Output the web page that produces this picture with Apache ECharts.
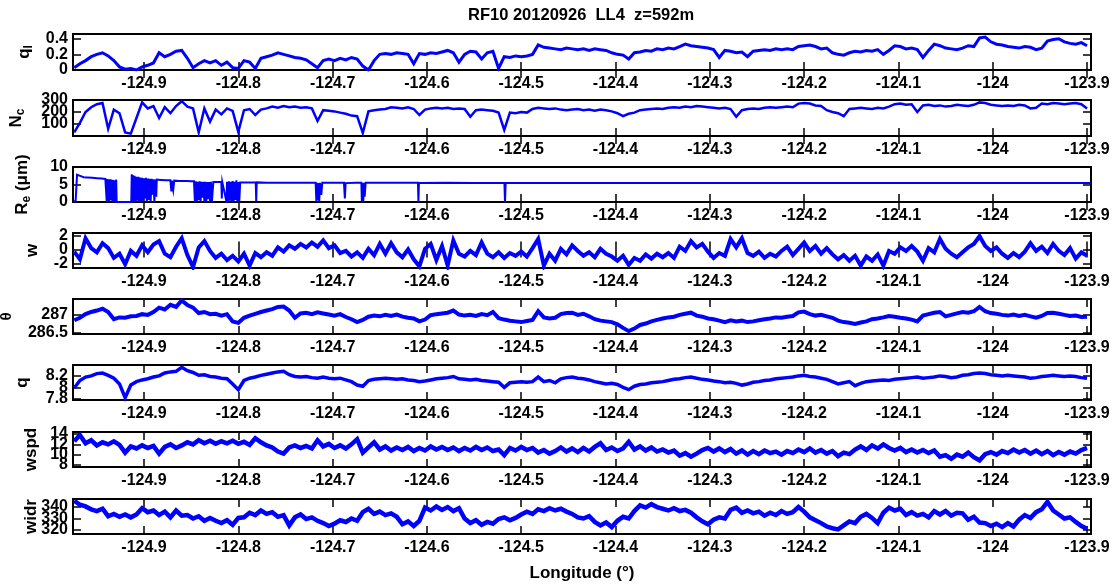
<!DOCTYPE html>
<html>
<head>
<meta charset="utf-8">
<script src="https://cdn.jsdelivr.net/npm/echarts@6/dist/echarts.min.js"></script>
<style>
  html, body { margin: 0; padding: 0; background: #fff; }
  #chart { width: 1114px; height: 586px; }
</style>
</head>
<body>
<div id="chart"></div>
<script>
// RF10 low-level leg LL4: cloud and thermodynamic fields along longitude
const TITLE = 'RF10 20120926  LL4  z=592m';
const X_NAME = 'Longitude (°)';
const xTicks = [-124.9, -124.8, -124.7, -124.6, -124.5, -124.4, -124.3, -124.2, -124.1, -124, -123.9];

// regular longitude sampling of the leg
const LON_START = -124.974;
const LON_STEP = 0.006;

// liquid water (g/kg)
const ql = [
  0.03,0.08,0.12,0.17,0.2, 0.22,0.18,0.12,0.04,0.01, 0.02,0,0.04,0.06,0.09, 0.22,0.17,0.2,0.24,0.25,
  0.15,0.03,0.08,0.12,0.09, 0.12,0.06,0.1,0.03,0.02, 0.12,0.1,0.02,0.15,0.17, 0.19,0.22,0.2,0.18,0.16,
  0.15,0.13,0.08,0.03,0.12, 0.14,0.12,0.15,0.13,0.16, 0.14,0.05,0,0.12,0.2, 0.21,0.2,0.22,0.21,0.2,
  0.08,0.21,0.2,0.22,0.21, 0.23,0.25,0.22,0.1,0.2, 0.24,0.23,0.14,0.22,0.24, 0.02,0.17,0.16,0.18,0.17,
  0.18,0.2,0.32,0.29,0.28, 0.27,0.26,0.28,0.27,0.26, 0.27,0.25,0.27,0.26,0.25, 0.22,0.2,0.19,0.14,0.22,
  0.23,0.25,0.24,0.27,0.26, 0.28,0.27,0.3,0.33,0.31, 0.3,0.29,0.28,0.26,0.16, 0.25,0.24,0.22,0.23,0.17,
  0.24,0.25,0.26,0.25,0.27, 0.26,0.27,0.26,0.3,0.31, 0.32,0.3,0.27,0.28,0.22, 0.2,0.19,0.22,0.24,0.23,
  0.25,0.24,0.26,0.2,0.25, 0.31,0.3,0.27,0.28,0.26, 0.16,0.25,0.33,0.31,0.28, 0.27,0.26,0.28,0.31,0.3,
  0.41,0.42,0.36,0.33,0.32, 0.3,0.29,0.28,0.3,0.29, 0.26,0.28,0.37,0.39,0.4, 0.36,0.34,0.33,0.35,0.31
];

// droplet number concentration (cm^-3)
const nc = [
  30,110,200,240,265, 275,60,220,190,30, 20,150,280,230,250, 150,240,190,250,290,
  245,230,30,230,120, 220,180,230,210,35, 215,225,175,220,230, 245,235,250,240,245,
  235,240,230,125,215, 210,205,195,185,170, 165,25,205,215,220, 225,240,235,230,240,
  225,175,220,230,235, 230,235,225,230,225, 160,215,220,215,210, 195,50,195,190,200,
  195,225,235,230,225, 230,220,215,220,225, 215,220,210,220,215, 205,190,165,185,195,
  215,220,225,230,225, 235,240,235,245,240, 250,245,240,235,230, 235,225,160,215,225,
  230,225,235,240,235, 240,245,240,270,275, 270,255,250,215,200, 190,165,225,230,235,
  230,225,235,230,245, 265,270,260,265,200, 255,260,250,255,245, 250,260,255,250,260,
  280,275,260,255,250, 255,250,260,255,230, 235,270,265,275,270, 265,270,275,265,230
];

// effective radius (um): [longitude, value], dropouts where the probe saw no cloud
const reSamples = [
  [-124.975,0],[-124.9725,0.4],[-124.971,7.8],[-124.969,8.2],[-124.967,7.4],[-124.964,7.1],[-124.96,7.0],
  [-124.955,6.9],[-124.95,6.8],[-124.945,6.7],[-124.941,6.6],
  [-124.9395,0],[-124.939,6.6],[-124.9385,0],[-124.938,6.5],[-124.937,0],[-124.936,6.5],[-124.935,0.5],
  [-124.9345,6.4],[-124.9335,0],[-124.933,6.3],[-124.932,0],[-124.931,6.2],[-124.93,0],[-124.9295,6.4],[-124.929,0],
  [-124.9135,0],[-124.913,7.9],[-124.9125,0],[-124.912,7.7],[-124.911,0],[-124.91,7.5],[-124.909,0],[-124.908,7.2],[-124.907,0.4],
  [-124.906,7.2],[-124.905,0],[-124.904,7.0],[-124.903,0.3],[-124.902,6.9],[-124.901,0],[-124.9,6.8],[-124.899,1.0],
  [-124.898,6.9],[-124.897,0],[-124.896,6.7],[-124.895,0.6],[-124.894,6.6],[-124.893,0],[-124.892,6.6],[-124.891,2.1],
  [-124.89,6.5],[-124.889,0],[-124.888,6.4],[-124.887,1.5],[-124.8865,6.4],
  [-124.882,6.3],[-124.877,6.2],[-124.872,6.2],[-124.871,3.0],[-124.8705,6.1],[-124.869,3.5],[-124.868,6.1],
  [-124.862,6.0],[-124.855,6.0],[-124.85,5.9],[-124.847,5.9],
  [-124.846,0],[-124.845,5.9],[-124.844,0],[-124.843,5.8],[-124.842,0.5],[-124.841,5.9],[-124.84,0],[-124.839,5.8],
  [-124.838,1.2],[-124.837,5.8],[-124.836,0],[-124.835,5.8],[-124.834,0],[-124.833,5.7],[-124.832,0.8],[-124.831,5.7],
  [-124.83,0],[-124.829,5.8],[-124.828,0],[-124.8265,5.7],
  [-124.822,5.7],[-124.818,5.7],[-124.8175,1.0],[-124.817,5.7],[-124.815,5.7],
  [-124.8125,0],[-124.812,5.8],[-124.811,0],[-124.81,5.9],[-124.809,0.4],[-124.808,5.8],[-124.807,0],[-124.806,6.0],
  [-124.805,0],[-124.804,5.8],[-124.803,0.6],[-124.802,6.2],[-124.801,0],[-124.8,5.7],[-124.799,0],[-124.798,5.6],
  [-124.79,5.6],[-124.7815,5.6],[-124.781,0],[-124.7805,5.6],[-124.77,5.5],[-124.75,5.5],[-124.73,5.5],[-124.718,5.5],
  [-124.7172,0],[-124.7165,5.5],[-124.716,0.5],[-124.7152,5.4],[-124.7142,0],[-124.7135,5.5],[-124.712,2.0],[-124.711,5.5],
  [-124.71,5.5],[-124.7,5.5],[-124.688,5.5],[-124.687,1.0],[-124.6862,5.4],[-124.675,5.5],
  [-124.6695,5.5],[-124.669,0.3],[-124.6682,5.4],[-124.6675,0],[-124.6668,5.5],[-124.666,1.5],[-124.665,5.5],
  [-124.64,5.5],[-124.62,5.5],[-124.6095,5.5],[-124.609,0],[-124.6085,5.4],[-124.58,5.5],[-124.55,5.4],
  [-124.5178,5.4],[-124.5172,0],[-124.5165,5.4],
  [-124.48,5.4],[-124.44,5.4],[-124.4,5.4],[-124.36,5.4],[-124.32,5.4],[-124.28,5.4],[-124.24,5.4],[-124.2,5.4],
  [-124.16,5.4],[-124.12,5.4],[-124.08,5.4],[-124.04,5.4],[-124,5.4],[-123.96,5.4],[-123.92,5.4],[-123.896,5.4]
];

// vertical velocity (m/s)
const w = [
  -0.3,-1.4,1.6,0.2,-0.4, 0.9,0.2,-1.2,-0.6,-2.1, -0.2,-0.9,0.6,-0.4,0.7, 1.2,-0.6,-1.1,0.4,1.6,
  -0.8,-2.5,0.3,1.2,-0.2, -1.2,-0.6,-1.5,-0.9,-1.7, -0.6,-2.3,-0.5,-1.1,-0.4, -0.9,0.3,-0.3,0.6,0.1,
  0.8,0.3,1.0,0.4,1.3, 0.2,0.6,-0.5,-0.2,-1.0, -0.4,-1.2,0.1,-0.8,0.8, -0.6,0.9,-0.4,-1.1,0.0,
  -1.4,-2.4,0.1,0.8,-1.5, 0.5,-2.3,1.3,-0.6,-1.0, -0.2,-0.8,1.0,-0.6,-1.1, -0.4,-1.2,-0.5,-0.9,-0.3,
  -1.0,0.2,1.5,-2.3,-0.6, -1.6,0.1,-0.7,0.6,-0.2, -0.9,-0.4,-1.1,0.1,-0.6, -1.0,-1.6,-0.9,-2.2,-1.2,
  -1.6,-0.7,-1.3,-0.6,-1.1, -0.5,-1.2,0.4,-0.2,1.2, 0.3,0.8,-0.3,-1.2,-0.5, -0.9,1.5,0.3,1.6,-0.5,
  -0.9,-0.3,-1.2,-0.6,-1.0, -0.2,0.4,-0.8,0.1,1.0, -0.2,0.5,-0.6,0.2,-0.7, -1.4,-0.8,-1.6,-0.9,-2.3,
  -1.0,-1.6,-0.7,-2.3,-0.2, -0.6,0.3,-0.2,0.5,-0.3, -1.6,0.2,-0.4,1.5,0.1, -0.6,-1.1,-0.4,0.3,0.8,
  1.9,0.5,-0.2,0.3,-0.6, -1.2,-0.5,-1.1,-0.3,0.9, -0.2,0.4,-0.5,0.8,-0.2, -0.8,0.2,-1.3,-0.4,-0.9
];

// potential temperature (K)
const theta = [
  286.85,286.92,287.02,287.08,287.12, 287.17,287.08,286.88,286.93,286.92, 286.96,286.97,287.02,287.0,287.08, 287.2,287.15,287.28,287.22,287.4,
  287.27,287.2,287.05,287.08,287.02, 287.03,286.98,287.02,286.82,286.78, 286.92,286.98,287.03,287.08,287.12, 287.16,287.22,287.23,287.12,286.92,
  287.04,287.06,287.02,287.07,287.04, 287.01,286.98,287.02,286.94,286.88, 286.8,286.86,286.95,286.98,286.96, 287.0,286.97,287.01,286.95,286.92,
  286.9,286.82,286.87,286.99,287.02, 287.04,287.06,287.12,287.01,286.98, 287.0,286.97,287.02,286.99,287.08, 286.91,286.87,286.84,286.82,286.8,
  286.83,286.86,287.1,286.93,286.9, 286.92,287.02,287.05,287.06,287.0, 287.03,286.96,286.88,286.84,286.82, 286.8,286.74,286.64,286.55,286.62,
  286.72,286.76,286.82,286.86,286.9, 286.93,286.95,287.0,287.03,287.06, 286.98,286.95,286.9,286.88,286.84, 286.8,286.85,286.82,286.84,286.8,
  286.82,286.85,286.88,286.9,286.93, 286.92,286.95,286.97,287.07,287.09, 287.02,286.98,287.0,286.96,286.92, 286.84,286.8,286.78,286.75,286.79,
  286.82,286.88,286.9,286.93,286.97, 286.95,286.92,286.9,286.87,286.82, 286.98,287.02,287.06,287.08,286.96, 287.0,287.04,287.08,287.06,287.1,
  287.22,287.1,287.05,287.03,287.0, 286.98,287.01,286.97,287.0,286.96, 286.92,286.97,287.05,287.06,287.03, 287.0,286.97,286.98,286.94,286.95
];

// water vapour mixing ratio (g/kg)
const q = [
  7.99,8.12,8.18,8.2,8.24, 8.25,8.21,8.16,8.06,7.82, 8.04,8.1,8.13,8.15,8.18, 8.2,8.25,8.27,8.28,8.35,
  8.29,8.26,8.21,8.22,8.19, 8.18,8.16,8.15,8.06,7.96, 8.12,8.16,8.18,8.21,8.23, 8.25,8.27,8.28,8.22,8.19,
  8.18,8.19,8.17,8.16,8.18, 8.16,8.15,8.16,8.13,8.1, 8.04,8.02,8.12,8.14,8.15, 8.16,8.15,8.14,8.15,8.13,
  8.12,8.1,8.11,8.13,8.15, 8.16,8.17,8.19,8.15,8.14, 8.13,8.14,8.12,8.11,8.1, 8.09,8.0,8.08,8.09,8.1,
  8.09,8.1,8.18,8.1,8.12, 8.08,8.15,8.17,8.18,8.16, 8.15,8.13,8.1,8.08,8.06, 8.07,8.05,8.0,7.96,8.02,
  8.05,8.06,8.08,8.09,8.1, 8.12,8.14,8.15,8.17,8.18, 8.16,8.14,8.13,8.11,8.1, 8.08,8.09,8.07,8.04,8.06,
  8.09,8.1,8.12,8.13,8.15, 8.16,8.17,8.18,8.2,8.21, 8.19,8.18,8.16,8.14,8.1, 8.06,8.08,8.1,8.03,8.07,
  8.1,8.11,8.12,8.13,8.12, 8.14,8.15,8.16,8.17,8.18, 8.16,8.17,8.18,8.2,8.19, 8.17,8.18,8.21,8.22,8.24,
  8.25,8.24,8.22,8.21,8.2, 8.21,8.2,8.19,8.18,8.16, 8.17,8.19,8.2,8.21,8.2, 8.19,8.2,8.19,8.17,8.16
];

// wind speed (m/s)
const wspd = [
  12.6,13.8,12.2,12.8,11.8, 12.4,12.0,12.6,11.9,10.4, 11.6,11.2,11.8,11.3,11.7, 10.2,11.5,12.0,11.3,11.8,
  12.4,12.0,12.8,12.2,12.7, 12.1,12.6,12.2,12.7,12.1, 12.5,11.9,13.2,12.4,11.8, 11.4,10.6,10.2,11.4,11.8,
  11.3,11.7,11.2,12.8,11.6, 12.1,11.3,11.8,11.2,12.0, 13.0,10.4,11.4,12.4,11.0, 11.6,10.8,11.4,10.9,11.5,
  10.7,11.3,10.8,11.6,11.0, 11.5,10.9,11.4,10.7,11.3, 10.8,11.5,10.9,11.4,10.7, 11.0,9.9,11.3,10.8,11.5,
  10.9,11.3,10.4,10.9,10.2, 10.7,11.4,10.6,11.2,10.5, 11.3,10.6,11.5,12.2,10.9, 11.4,10.7,11.2,12.5,11.0,
  11.6,10.8,11.4,10.6,11.0, 10.4,10.8,9.8,10.3,9.6, 10.2,10.9,11.3,10.6,11.2, 10.5,11.1,10.2,10.8,10.0,
  10.7,10.1,10.8,10.3,10.6, 10.0,10.7,10.3,11.0,10.5, 11.2,10.4,10.9,10.2,10.7, 9.7,10.4,10.1,11.0,11.6,
  10.9,11.8,11.2,12.0,11.3, 10.8,11.3,10.5,11.0,10.4, 10.9,10.3,10.8,9.6,9.9, 9.2,10.0,9.6,10.4,9.5,
  8.9,10.1,10.5,10.0,10.7, 10.3,11.0,10.4,10.9,10.2, 10.8,10.1,10.7,9.9,10.5, 10.0,10.6,10.2,10.9,11.3
];

// wind direction (deg)
const widr = [
  345.5,342.0,340.5,338.0,336.5, 338.5,332.0,334.0,331.5,333.5, 331.0,333.5,339.0,335.5,337.0, 333.0,336.0,331.0,337.0,332.5,
  333.0,330.0,332.0,328.0,330.5, 328.0,326.0,328.5,324.5,330.5, 331.0,335.0,333.0,337.0,334.0, 335.5,331.5,333.0,324.0,331.0,
  333.5,329.5,331.0,328.0,326.0, 323.5,325.5,328.5,327.0,330.0, 328.0,335.5,338.5,334.0,336.0, 333.0,334.5,331.5,325.0,327.5,
  323.5,328.0,339.5,337.0,340.5, 337.5,340.0,336.5,339.0,330.0, 326.0,328.5,324.5,327.0,325.5, 329.5,331.0,328.5,330.5,333.5,
  336.0,334.0,338.0,336.5,339.0, 337.0,338.5,336.0,334.0,331.0, 330.0,332.0,327.0,324.0,326.5, 322.5,328.0,331.5,330.0,336.5,
  341.5,339.5,342.5,340.0,338.5, 337.0,339.0,336.5,337.5,335.0, 331.0,327.5,325.0,329.0,331.0, 330.0,337.5,339.5,335.0,337.0,
  334.5,336.0,332.5,335.0,333.0, 336.5,334.0,335.5,340.0,336.0, 331.0,328.5,326.0,323.0,321.5, 320.5,324.0,327.5,326.0,331.5,
  334.0,330.5,326.0,335.0,339.5, 337.0,338.5,333.0,335.5,332.5, 334.0,331.0,336.5,333.5,336.5, 332.5,335.0,334.5,329.0,331.5,
  326.5,326.0,323.5,325.5,322.5, 326.0,323.0,329.0,333.0,330.5, 335.5,338.0,344.5,337.0,333.5, 330.0,331.0,327.0,323.5,321.0
];

const yTicks = {
  ql: [0, 0.2, 0.4],
  nc: [100, 200, 300],
  re: [0, 5, 10],
  w: [-2, 0, 2],
  theta: [286.5, 287],
  q: [7.8, 8, 8.2],
  wspd: [8, 10, 12, 14],
  widr: [320, 330, 340]
};

const lon = ql.map((_, i) => +(LON_START + i * LON_STEP).toFixed(4));
const pairs = vals => vals.map((v, i) => [lon[i], v]);

// axis extents and panel layout
const X_MIN = -124.9753, X_MAX = -123.8958;
const FONT = '"Liberation Sans", Arial, Helvetica, sans-serif';
const panels = [
  { key: 'ql',    label: '{m|q}{s|l}',          data: pairs(ql),    ymin: 0,      ymax: 0.46,   top: 34,  height: 36, gap: 38, lw: 3 },
  { key: 'nc',    label: '{m|N}{s|c}',          data: pairs(nc),    ymin: 0,      ymax: 300,    top: 100, height: 36, gap: 46, lw: 2.5 },
  { key: 're',    label: '{m|R}{s|e}{m| (μm)}', data: reSamples,    ymin: 0,      ymax: 10,     top: 167, height: 35, gap: 40, lw: 2 },
  { key: 'w',     label: '{m|w}',               data: pairs(w),     ymin: -2.64,  ymax: 2.36,   top: 233, height: 35, gap: 30, lw: 4 },
  { key: 'theta', label: '{t|θ}',               data: pairs(theta), ymin: 286.47, ymax: 287.44, top: 299, height: 35, gap: 57, lw: 4 },
  { key: 'q',     label: '{m|q}',               data: pairs(q),     ymin: 7.78,   ymax: 8.39,   top: 365, height: 35, gap: 40, lw: 3.5 },
  { key: 'wspd',  label: '{m|wspd}',            data: pairs(wspd),  ymin: 7.6,    ymax: 14.4,   top: 432, height: 35, gap: 31, lw: 4.5 },
  { key: 'widr',  label: '{m|widr}',            data: pairs(widr),  ymin: 316.5,  ymax: 347,    top: 499, height: 35, gap: 31, lw: 4.5 }
];

const tickStyle = { color: '#000', width: 1.5 };
const labelStyle = {
  color: '#000', fontSize: 16, fontWeight: 'bold', fontFamily: FONT,
  hideOverlap: false, showMinLabel: true, showMaxLabel: true
};
const nameRich = {
  m: { fontSize: 17, fontWeight: 'bold', fontFamily: FONT, color: '#000', lineHeight: 22 },
  s: { fontSize: 12, fontWeight: 'bold', fontFamily: FONT, color: '#000', lineHeight: 12, verticalAlign: 'bottom' },
  t: { fontSize: 15, fontWeight: 'bold', fontFamily: FONT, color: '#000', lineHeight: 18 }
};
const hidden = { show: false };

const grid = [], xAxis = [], yAxis = [], series = [];
panels.forEach((p, i) => {
  grid.push({
    left: 73, width: 1018, top: p.top, height: p.height,
    containLabel: false, outerBoundsMode: 'none',
    show: true, borderColor: '#000', borderWidth: 2, backgroundColor: 'transparent'
  });
  const last = i === panels.length - 1;
  // bottom axis carries the longitude labels; top axis only repeats the ticks
  xAxis.push({
    type: 'value', gridIndex: i, min: X_MIN, max: X_MAX, position: 'bottom',
    axisLine: hidden, splitLine: hidden,
    axisTick: { show: true, inside: true, length: 8, customValues: xTicks, lineStyle: tickStyle },
    axisLabel: { show: true, customValues: xTicks, margin: 6, ...labelStyle },
    name: last ? X_NAME : '', nameLocation: 'middle', nameGap: 31,
    nameTextStyle: { color: '#000', fontSize: 17, fontWeight: 'bold', fontFamily: FONT }
  });
  const xIndex = xAxis.length - 1;
  xAxis.push({
    type: 'value', gridIndex: i, min: X_MIN, max: X_MAX, position: 'top',
    axisLine: hidden, splitLine: hidden,
    axisTick: { show: true, inside: true, length: 8, customValues: xTicks, lineStyle: tickStyle },
    axisLabel: hidden
  });
  // left axis: inward ticks and the quantity name
  yAxis.push({
    type: 'value', gridIndex: i, min: p.ymin, max: p.ymax, position: 'left',
    axisLine: hidden, splitLine: hidden,
    axisTick: { show: true, inside: true, length: 8, customValues: yTicks[p.key], lineStyle: tickStyle },
    axisLabel: hidden,
    name: p.label, nameLocation: 'middle', nameRotate: 90, nameGap: p.gap,
    nameMoveOverlap: false,
    nameTextStyle: { rich: nameRich }
  });
  const yIndex = yAxis.length - 1;
  // each tick value gets its own label axis so crowded labels all stay visible
  yTicks[p.key].forEach(v => {
    yAxis.push({
      type: 'value', gridIndex: i, min: p.ymin, max: p.ymax, position: 'left',
      axisLine: hidden, splitLine: hidden, axisTick: hidden,
      axisLabel: { show: true, customValues: [v], margin: 5, ...labelStyle }
    });
  });
  yAxis.push({
    type: 'value', gridIndex: i, min: p.ymin, max: p.ymax, position: 'right',
    axisLine: hidden, splitLine: hidden,
    axisTick: { show: true, inside: true, length: 8, customValues: yTicks[p.key], lineStyle: tickStyle },
    axisLabel: hidden
  });
  series.push({
    type: 'line', xAxisIndex: xIndex, yAxisIndex: yIndex, data: p.data,
    symbol: 'none', showSymbol: false, clip: true,
    lineStyle: { color: '#0000ff', width: p.lw, join: 'miter' }
  });
});

const chart = echarts.init(document.getElementById('chart'), null, { renderer: 'canvas' });
chart.setOption({
  animation: false,
  backgroundColor: '#fff',
  title: {
    text: TITLE, left: 468, top: 7, padding: 0,
    textStyle: { color: '#000', fontSize: 16.5, fontWeight: 'bold', fontFamily: FONT }
  },
  grid, xAxis, yAxis, series
});
</script>
</body>
</html>
